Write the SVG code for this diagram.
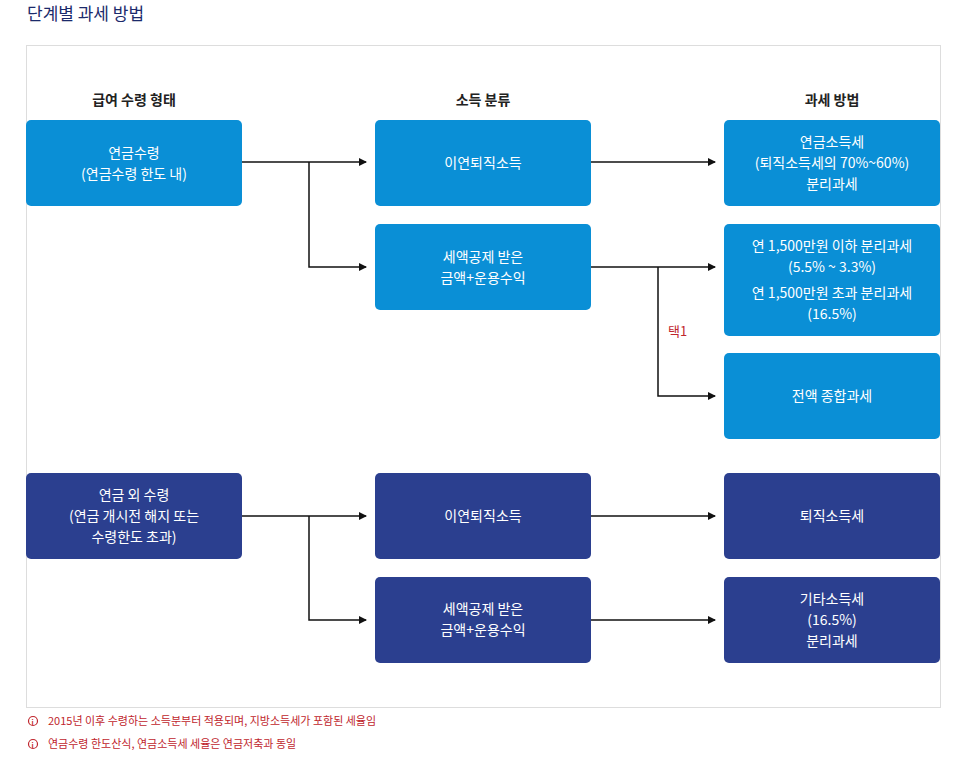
<svg xmlns="http://www.w3.org/2000/svg" width="963" height="758" viewBox="0 0 963 758">
<style>
text{font-family:"Noto Sans CJK KR","Noto Sans",sans-serif;}
.b1{fill:#0a8fd6}.b2{fill:#2b3f8f}
.t{fill:#fff;font-size:14px;text-anchor:middle}
.h{fill:#222;font-size:14px;font-weight:bold;text-anchor:middle}
.c{fill:none;stroke:#111;stroke-width:1.5}
.n{fill:#c0262d;font-size:11px}
</style>
<defs><marker id="a" markerWidth="8" markerHeight="8" refX="7" refY="4" orient="auto" markerUnits="userSpaceOnUse"><path d="M0,0L8,4L0,8z" fill="#111"/></marker></defs>
<rect width="963" height="758" fill="#fff"/>
<text x="27" y="20" style="font-size:17px;fill:#1b2a6b">단계별 과세 방법</text>
<rect x="26.500" y="45.500" width="914" height="662" fill="#fff" stroke="#ddd"/>
<text class="h" x="134" y="105">급여 수령 형태</text>
<text class="h" x="483" y="105">소득 분류</text>
<text class="h" x="832" y="105">과세 방법</text>
<g id="connectors">
<path class="c" d="M242,162H366" marker-end="url(#a)"/>
<path class="c" d="M309,162V267H366" marker-end="url(#a)"/>
<path class="c" d="M591,162H715" marker-end="url(#a)"/>
<path class="c" d="M591,267H715" marker-end="url(#a)"/>
<path class="c" d="M658,267V396H715" marker-end="url(#a)"/>
<path class="c" d="M242,516H366" marker-end="url(#a)"/>
<path class="c" d="M309,516V620H366" marker-end="url(#a)"/>
<path class="c" d="M591,516H715" marker-end="url(#a)"/>
<path class="c" d="M591,620H715" marker-end="url(#a)"/>
<text x="668" y="336" style="font-size:13px;fill:#c0262d">택1</text>
</g>
<g id="n1"><rect class="b1" x="26" y="120" width="216" height="86" rx="5"/><text class="t" x="134" y="158">연금수령</text><text class="t" x="134" y="179">(연금수령 한도 내)</text></g>
<g id="n2"><rect class="b1" x="375" y="120" width="216" height="86" rx="5"/><text class="t" x="483" y="168">이연퇴직소득</text></g>
<g id="n3"><rect class="b1" x="724" y="120" width="216" height="86" rx="5"/><text class="t" x="832" y="147">연금소득세</text><text class="t" x="832" y="168">(퇴직소득세의 70%~60%)</text><text class="t" x="832" y="189">분리과세</text></g>
<g id="n4"><rect class="b1" x="375" y="224" width="216" height="86" rx="5"/><text class="t" x="483" y="262">세액공제 받은</text><text class="t" x="483" y="283">금액+운용수익</text></g>
<g id="n5"><rect class="b1" x="724" y="224" width="216" height="112" rx="5"/><text class="t" x="832" y="251">연 1,500만원 이하 분리과세</text><text class="t" x="832" y="272">(5.5% ~ 3.3%)</text><text class="t" x="832" y="298">연 1,500만원 초과 분리과세</text><text class="t" x="832" y="319">(16.5%)</text></g>
<g id="n6"><rect class="b1" x="724" y="353" width="216" height="86" rx="5"/><text class="t" x="832" y="401">전액 종합과세</text></g>
<g id="n7"><rect class="b2" x="26" y="473" width="216" height="86" rx="5"/><text class="t" x="134" y="500">연금 외 수령</text><text class="t" x="134" y="521">(연금 개시전 해지 또는</text><text class="t" x="134" y="542">수령한도 초과)</text></g>
<g id="n8"><rect class="b2" x="375" y="473" width="216" height="86" rx="5"/><text class="t" x="483" y="521">이연퇴직소득</text></g>
<g id="n9"><rect class="b2" x="724" y="473" width="216" height="86" rx="5"/><text class="t" x="832" y="521">퇴직소득세</text></g>
<g id="n10"><rect class="b2" x="375" y="577" width="216" height="86" rx="5"/><text class="t" x="483" y="614">세액공제 받은</text><text class="t" x="483" y="635">금액+운용수익</text></g>
<g id="n11"><rect class="b2" x="724" y="577" width="216" height="86" rx="5"/><text class="t" x="832" y="604">기타소득세</text><text class="t" x="832" y="625">(16.5%)</text><text class="t" x="832" y="646">분리과세</text></g>
<g id="notes">
<circle cx="33" cy="721" r="4.500" fill="none" stroke="#c0262d" stroke-width="1.2"/><text x="31.500" y="724.500" style="font-size:7px;fill:#c0262d;font-weight:bold">i</text>
<text class="n" x="48" y="725">2015년 이후 수령하는 소득분부터 적용되며, 지방소득세가 포함된 세율임</text>
<circle cx="33" cy="744" r="4.500" fill="none" stroke="#c0262d" stroke-width="1.2"/><text x="31.500" y="747.500" style="font-size:7px;fill:#c0262d;font-weight:bold">i</text>
<text class="n" x="48" y="748">연금수령 한도산식, 연금소득세 세율은 연금저축과 동일</text>
</g>
</svg>
